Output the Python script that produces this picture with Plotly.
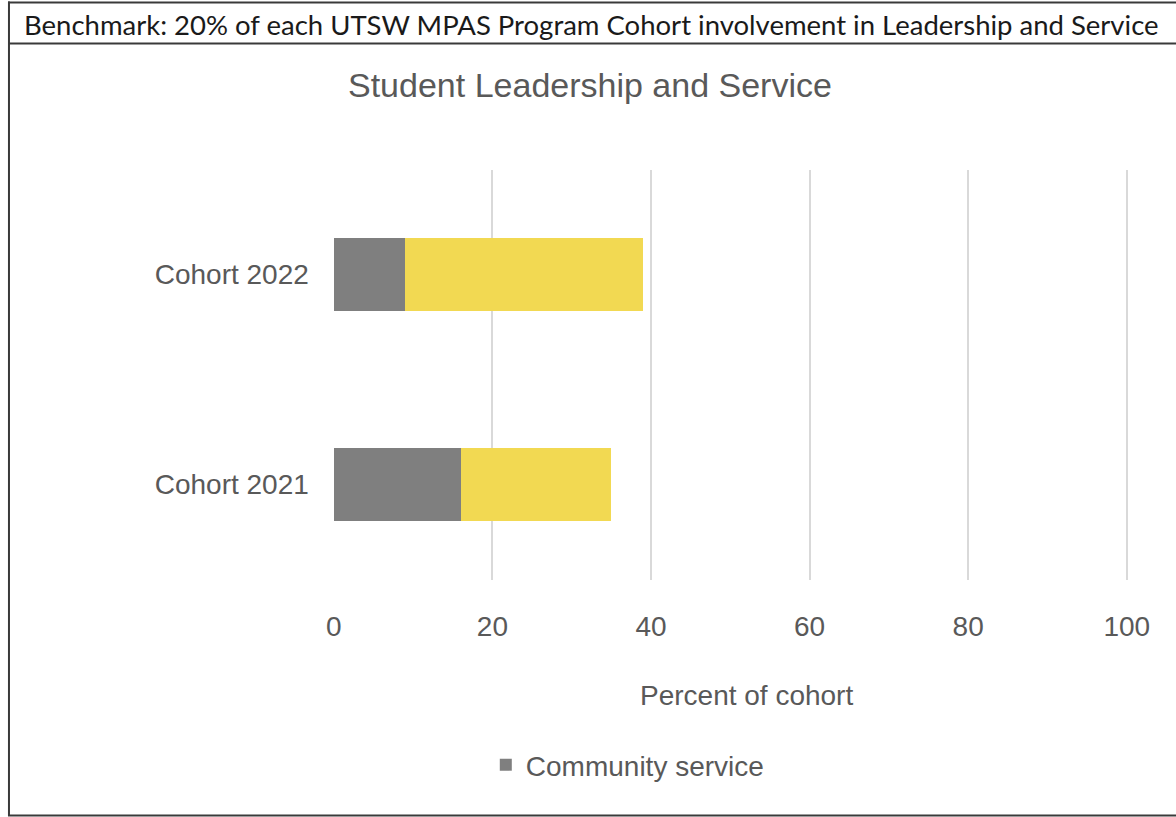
import plotly.graph_objects as go

# ---- data ----
cohorts = ["Cohort 2021", "Cohort 2022"]
community_service = [16, 9]
leadership = [19, 30]
x_ticks = [0, 20, 40, 60, 80, 100]

header_text = "Benchmark: 20% of each UTSW MPAS Program Cohort involvement in Leadership and Service"
chart_title = "Student Leadership and Service"
x_title = "Percent of cohort"

# page size (the capture maps page x -> 0.975*x + 8.2 in the picture)
WP, H = 1200, 817
SX, OX = 0.975, 8.2


def px(X):
    """picture x (pixels) -> paper fraction"""
    return ((X - OX) / SX) / WP


def py(y):
    return 1 - y / H


TXT = "#595959"
FONT = "Arial, 'Liberation Sans', sans-serif"

fig = go.Figure()
fig.add_trace(go.Bar(
    y=cohorts, x=community_service, orientation="h", name="Community service",
    marker=dict(color="#7F7F7F", line=dict(width=0)), showlegend=True,
))
fig.add_trace(go.Bar(
    y=cohorts, x=leadership, orientation="h", name="Leadership",
    marker=dict(color="#F2D952", line=dict(width=0)), showlegend=False,
))

shapes = []
line_col = "#3a3a3a"
LEFT = 1.0 / WP
shapes.append(dict(type="line", xref="paper", yref="paper", x0=LEFT, x1=LEFT, y0=py(1.5), y1=py(816),
                   line=dict(color=line_col, width=2)))
for yy in (2.5, 43.5, 815.5):
    shapes.append(dict(type="line", xref="paper", yref="paper", x0=0, x1=1, y0=py(yy), y1=py(yy),
                       line=dict(color=line_col, width=2)))

annotations = [
    dict(text=header_text, xref="paper", yref="paper", x=px(22), y=py(24), xanchor="left", yanchor="middle",
         showarrow=False, font=dict(family="Lato, Carlito, Calibri, sans-serif", size=27.5, color="#1a1a1a")),
    dict(text=chart_title, xref="paper", yref="paper", x=px(590.5), y=py(85), xanchor="center", yanchor="middle",
         showarrow=False, font=dict(family=FONT, size=34, color=TXT)),
    dict(text=x_title, xref="paper", yref="paper", x=px(746.5), y=py(695), xanchor="center", yanchor="middle",
         showarrow=False, font=dict(family=FONT, size=28, color=TXT)),
]

X0, X100 = 334, 1127
XMAX = 100.2
x_end = X0 + (X100 - X0) * XMAX / 100
fig.update_layout(
    width=WP, height=H, autosize=False,
    margin=dict(l=0, r=0, t=0, b=0),
    paper_bgcolor="white", plot_bgcolor="white",
    barmode="stack", bargap=0.652,
    font=dict(family=FONT, size=28, color=TXT),
    shapes=shapes, annotations=annotations,
    xaxis=dict(
        domain=[px(X0), px(x_end)], range=[0, XMAX], tickvals=x_ticks,
        showgrid=True, gridcolor="#D9D9D9", gridwidth=2, zeroline=False,
        showline=False, ticks="", ticklabelstandoff=27,
        tickfont=dict(family=FONT, size=28, color=TXT),
    ),
    yaxis=dict(
        domain=[py(580), py(170)], range=[-0.4548, 1.4976], showgrid=False, zeroline=False, showline=False,
        ticks="", ticklabelstandoff=24, tickfont=dict(family=FONT, size=28, color=TXT),
        categoryorder="array", categoryarray=cohorts,
    ),
    legend=dict(
        orientation="h", x=px(486), y=py(765), xanchor="left", yanchor="middle",
        font=dict(family=FONT, size=28, color=TXT), bgcolor="rgba(0,0,0,0)",
        itemwidth=30,
    ),
)

post = (
    "document.documentElement.style.overflow='hidden';"
    "document.body.style.margin='0';"
    "document.body.style.overflow='hidden';"
    "var gd=document.getElementById('{plot_id}');"
    "gd.style.position='fixed';gd.style.left='0px';gd.style.top='0px';"
)
fig.write_html("out.html", config={"displayModeBar": False, "responsive": False}, post_script=post)
